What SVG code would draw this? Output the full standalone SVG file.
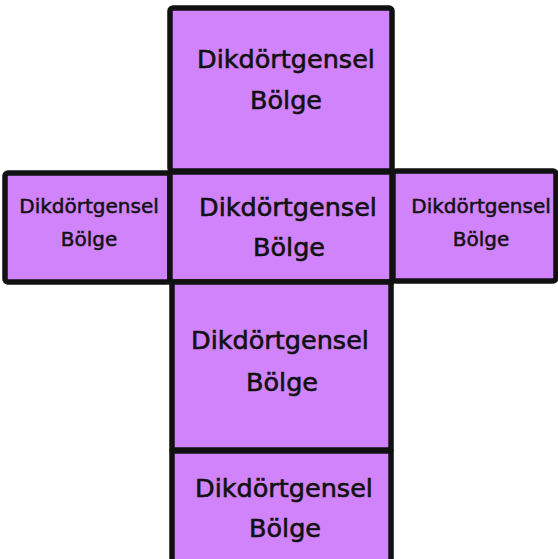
<svg xmlns="http://www.w3.org/2000/svg" width="558" height="559" viewBox="0 0 558 559">
<style>
.box{fill:#d183fc;stroke:#111;stroke-width:5.5;stroke-linejoin:round}
.big{font-family:"DejaVu Sans",sans-serif;font-size:25.5px;fill:#111;stroke:#111;stroke-width:0.6;text-anchor:middle}
.small{font-family:"DejaVu Sans",sans-serif;font-size:20px;fill:#111;stroke:#111;stroke-width:0.5;text-anchor:middle}
</style>
<rect width="558" height="559" fill="#fff"/>
<g id="top"><rect class="box" x="170" y="8" width="222" height="163" rx="3"/>
<text class="big" x="286" y="68">Dikdörtgensel</text><text class="big" x="286" y="109">Bölge</text></g>
<g id="left"><rect class="box" x="5" y="173" width="165" height="109" rx="3"/>
<text class="small" x="89" y="213">Dikdörtgensel</text><text class="small" x="89" y="246">Bölge</text></g>
<g id="center"><rect class="box" x="170" y="172" width="222" height="110"/>
<text class="big" x="288" y="216">Dikdörtgensel</text><text class="big" x="289" y="256">Bölge</text></g>
<g id="right"><rect class="box" x="393" y="171" width="163" height="110" rx="3"/>
<text class="small" x="481" y="213">Dikdörtgensel</text><text class="small" x="481" y="246">Bölge</text></g>
<g id="below"><rect class="box" x="172" y="282" width="219" height="168"/>
<text class="big" x="280" y="349">Dikdörtgensel</text><text class="big" x="282" y="391">Bölge</text></g>
<g id="bottom"><rect class="box" x="172" y="451" width="219" height="112"/>
<text class="big" x="284" y="497">Dikdörtgensel</text><text class="big" x="285" y="537">Bölge</text></g>
<g id="connectors"/>
</svg>
